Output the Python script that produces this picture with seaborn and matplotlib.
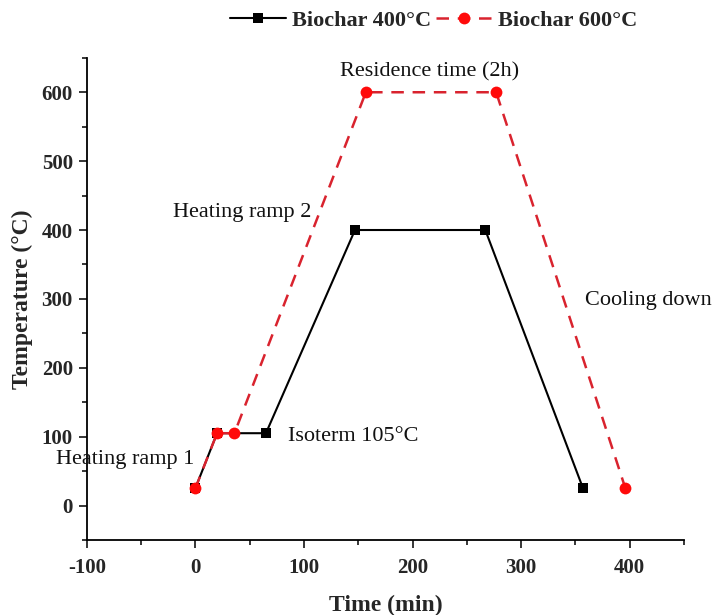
import matplotlib
matplotlib.use("Agg")
import matplotlib.pyplot as plt
from matplotlib.ticker import MultipleLocator
import seaborn as sns
import pandas as pd

# Data
time_400 = [0, 20, 65, 147, 267, 357]
temp_400 = [25, 105, 105, 400, 400, 25]
time_600 = [0, 20, 36, 157, 277, 396]
temp_600 = [25, 105, 105, 600, 600, 25]
labels = ["Biochar 400°C", "Biochar 600°C"]

annotations = [
    ("Residence time (2h)", 216, 629, "center"),
    ("Heating ramp 2", -21, 426, "left"),
    ("Isoterm 105°C", 85, 100, "left"),
    ("Heating ramp 1", -128, 67, "left"),
    ("Cooling down", 359, 298, "left"),
]

sns.set_style("ticks")
plt.rcParams["font.family"] = ["Liberation Serif", "DejaVu Serif"]
plt.rcParams["axes.unicode_minus"] = False

fig = plt.figure(figsize=(7.17, 6.15), dpi=100)
ax = fig.add_axes([0.121, 0.122, 0.833, 0.784])

df400 = pd.DataFrame({"Time": time_400, "Temp": temp_400})
df600 = pd.DataFrame({"Time": time_600, "Temp": temp_600})

sns.lineplot(data=df400, x="Time", y="Temp", ax=ax, color="black",
             linewidth=1.5, marker="s", markersize=7, markeredgewidth=0,
             markerfacecolor="black", label=labels[0], legend=False)
sns.lineplot(data=df600, x="Time", y="Temp", ax=ax, color="#d9232e",
             linewidth=1.8, marker="o", markersize=8.5, markeredgewidth=0,
             markerfacecolor="#ff0a0a", dashes=False, label=labels[1], legend=False)
ax.lines[1].set_dashes((5, 3.5))

ax.set_xlim(-100, 450)
ax.set_ylim(-50, 650)
ax.xaxis.set_major_locator(MultipleLocator(100))
ax.xaxis.set_minor_locator(MultipleLocator(50))
ax.yaxis.set_major_locator(MultipleLocator(100))
ax.yaxis.set_minor_locator(MultipleLocator(50))
ax.tick_params(which="major", direction="out", length=6, width=1.3, labelsize=15, pad=4)
ax.tick_params(axis="x", which="major", pad=7)
ax.tick_params(which="minor", direction="out", length=3.5, width=1.3)
for lab in ax.get_xticklabels() + ax.get_yticklabels():
    lab.set_fontweight("bold")
sns.despine(ax=ax)
for s in ["left", "bottom"]:
    ax.spines[s].set_linewidth(1.3)
    ax.spines[s].set_color("black")

ax.set_xlabel("Time (min)", fontsize=17, fontweight="bold", labelpad=12)
ax.set_ylabel("Temperature (°C)", fontsize=17, fontweight="bold", labelpad=6)

for text, x, y, ha in annotations:
    ax.text(x, y, text, fontsize=16, ha=ha, va="center", clip_on=False, color="#111111")

handles, labs = ax.get_legend_handles_labels()
fig.legend(handles, labs, loc="center", bbox_to_anchor=(0.605, 0.967), ncol=2,
           frameon=False, handlelength=2.5, handletextpad=0.3, columnspacing=0.2,
           prop={"size": 16, "weight": "bold"})

fig.savefig("out.png", dpi=100)
